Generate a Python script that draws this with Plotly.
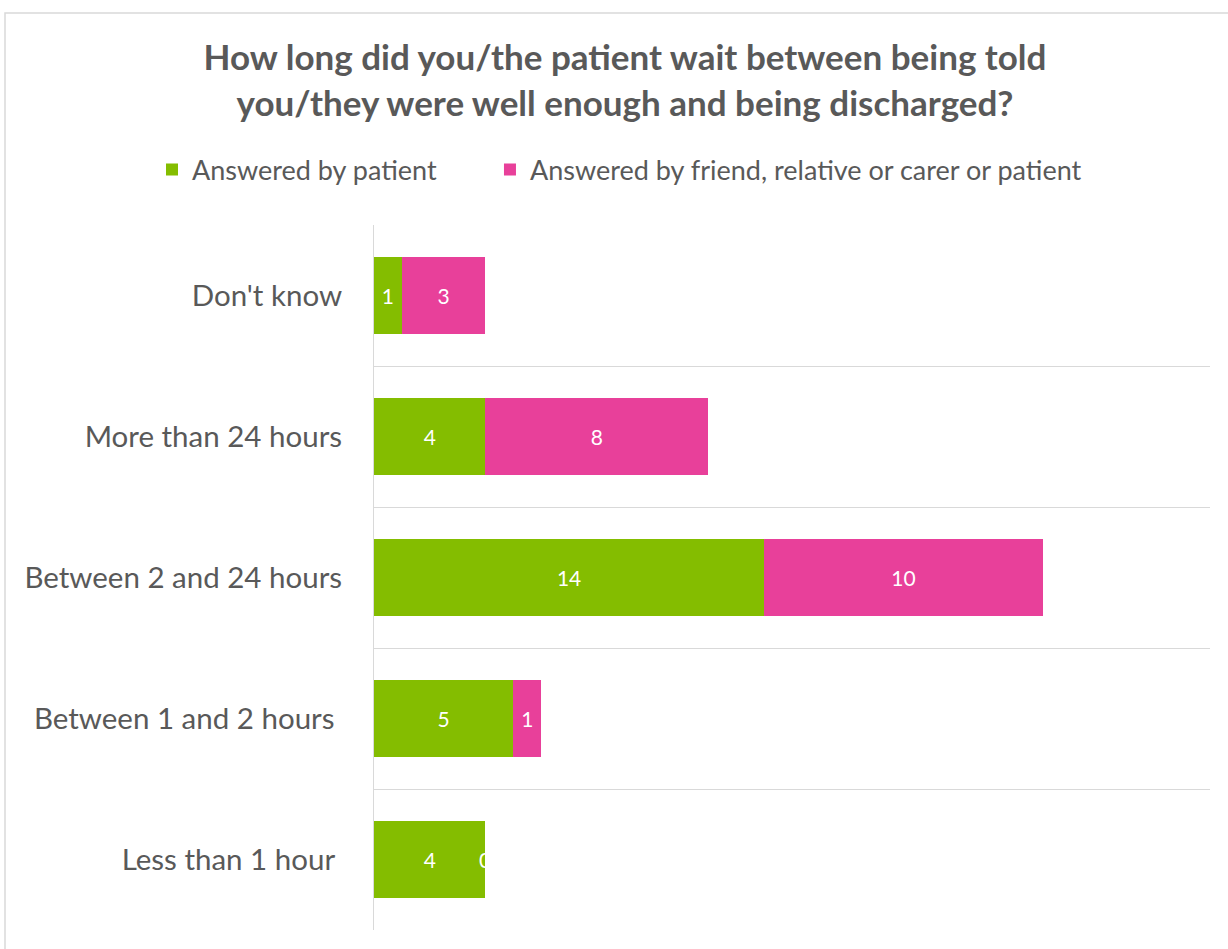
import plotly.graph_objects as go

categories = ["Don't know", "More than 24 hours", "Between 2 and 24 hours",
              "Between 1 and 2 hours", "Less than 1 hour"]
tick_labels = ["Don't know", "More than 24 hours", "Between 2 and 24 hours",
               "Between 1 and 2 hours\u00a0", "Less than 1 hour\u00a0"]
patient = [1, 4, 14, 5, 4]
friend = [3, 8, 10, 1, 0]
series_names = ["Answered by patient", "Answered by friend, relative or carer or patient"]
legend_pad = ["\u00a0" * 7, ""]
colors = ["#84BD00", "#E8409A"]

FONT = "Lato"
GREY = "#595959"

fig = go.Figure()
for name, pad, vals, col in zip(series_names, legend_pad, [patient, friend], colors):
    fig.add_trace(go.Bar(
        y=categories, x=vals, name=name + pad, orientation="h",
        marker=dict(color=col, line=dict(width=0)),
        text=[str(v) for v in vals], textposition="inside",
        insidetextanchor="middle", textangle=0,
        insidetextfont=dict(color="white", size=21, family=FONT),
        width=0.55,
    ))

# zero-valued label that Plotly would otherwise drop
for c, p, f in zip(categories, patient, friend):
    if f == 0:
        fig.add_annotation(x=p + f / 2, y=c, text="0", showarrow=False,
                           font=dict(color="white", size=21, family=FONT),
                           xref="x", yref="y")

fig.update_layout(
    width=1228, height=949,
    barmode="stack",
    paper_bgcolor="white", plot_bgcolor="white",
    margin=dict(l=374, r=18, t=225, b=19),
    font=dict(family=FONT, color=GREY),
    title=dict(
        text="How long did you/the patient wait between being told<br>you/they were well enough and being discharged?",
        x=(625 - 374) / 836, xref="paper", xanchor="center",
        y=1 - 70 / 949, yref="container", yanchor="top",
        font=dict(family=FONT, size=35, color=GREY, weight="bold"),
    ),
    legend=dict(
        orientation="h", x=(152 - 374) / 836, xanchor="left",
        y=1 + (225 - 170) / 705, yanchor="middle",
        font=dict(family=FONT, size=27, color=GREY),
        traceorder="normal", itemwidth=30,
    ),
    showlegend=True,
    bargap=0.45,
)

fig.update_yaxes(
    type="category", categoryorder="array", categoryarray=categories[::-1],
    tickvals=categories, ticktext=tick_labels,
    tickson="boundaries", showgrid=True, gridcolor="#D9D9D9", gridwidth=1,
    ticks="", showline=True, linecolor="#D9D9D9", linewidth=1,
    tickfont=dict(family=FONT, size=29.5, color=GREY), ticklabelstandoff=25,
    zeroline=False,
)
fig.update_xaxes(range=[0, 30], showgrid=False, showticklabels=False,
                 zeroline=False, showline=False, ticks="")

# chart border
fig.add_shape(type="rect", xref="paper", yref="paper",
              x0=(5 - 374) / 836, x1=(1240 - 374) / 836,
              y0=(930 - 960) / 705, y1=1 + (225 - 13) / 705,
              line=dict(color="#D9D9D9", width=1.5), fillcolor="rgba(0,0,0,0)",
              layer="below")

fig.write_html("out.html", config={"displayModeBar": False},
               post_script="document.body.style.margin='0';")
